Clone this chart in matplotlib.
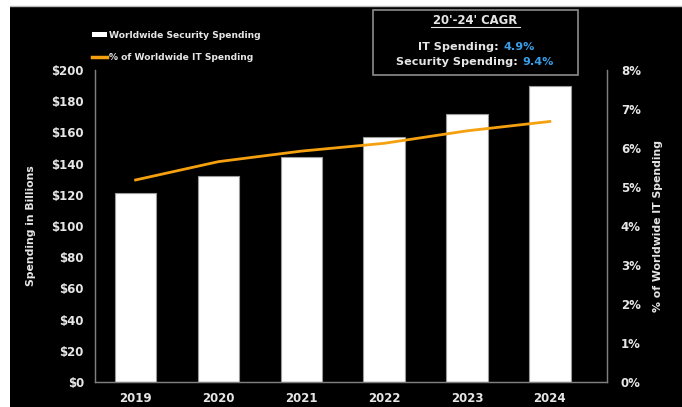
import matplotlib
matplotlib.use("Agg")
import matplotlib.pyplot as plt
from matplotlib.patches import Rectangle, Patch
from matplotlib.lines import Line2D

years = ["2019", "2020", "2021", "2022", "2023", "2024"]
security_spend = [121, 132, 144, 157, 172, 190]       # $ billions
pct_of_it = [5.18, 5.65, 5.92, 6.12, 6.44, 6.68]      # % of worldwide IT spending
yticks_left = list(range(0, 201, 20))
yticks_right = list(range(0, 9))
cagr_it = "4.9%"
cagr_sec = "9.4%"

W, H = 682, 407
fg = "#e6e6e6"
spine_c = "#7f7f7f"
orange = "#f5a00f"
blue = "#3a9ee8"

plt.rcParams["font.family"] = ["DejaVu Sans"]
plt.rcParams["font.weight"] = "bold"

fig = plt.figure(figsize=(W / 100, H / 100), dpi=100, facecolor="white")
# black panel (screenshot has a white strip at the top and left)
fig.patches.append(Rectangle((10 / W, 0), 1 - 10 / W, 1 - 6 / H, transform=fig.transFigure,
                             facecolor="black", edgecolor="none", zorder=-10))
fig.add_artist(Line2D([10 / W, 1], [1 - 5.5 / H, 1 - 5.5 / H], color="#bbbbbb", lw=1))

ax = fig.add_axes([95 / W, 1 - 382 / H, 512 / W, 312 / H])
ax.set_facecolor("black")
x = list(range(len(years)))
ax.bar(x, security_spend, width=0.5, color="white", edgecolor="#9a9a9a", linewidth=0.8, zorder=2)
ax.set_xlim(-0.49, 5.69)
ax.set_ylim(0, 200)
ax.set_yticks(yticks_left)
ax.set_yticklabels([f"${v}" for v in yticks_left])
ax.set_xticks(x)
ax.set_xticklabels(years)
ax.tick_params(axis="y", length=0, pad=8, labelsize=8.5, colors=fg)
ax.tick_params(axis="x", length=0, pad=7, labelsize=8.5, colors=fg)
ax.set_ylabel("Spending in Billions", color=fg, fontsize=7.8, fontweight="bold", labelpad=11)

ax2 = ax.twinx()
ax2.plot(x, pct_of_it, color=orange, lw=2, zorder=3)
ax2.set_ylim(0, 8)
ax2.set_yticks(yticks_right)
ax2.set_yticklabels([f"{v}%" for v in yticks_right])
ax2.tick_params(axis="y", length=0, pad=10, labelsize=8.5, colors=fg)
ax2.set_ylabel("% of Worldwide IT Spending", color=fg, fontsize=7.8, fontweight="bold", labelpad=9)

for a in (ax, ax2):
    for s in a.spines.values():
        s.set_color(spine_c)
        s.set_linewidth(0.9)
    a.spines["top"].set_visible(False)

handles = [Patch(facecolor="white", edgecolor="none"),
           Line2D([0], [0], color=orange, lw=2.5)]
leg = fig.legend(handles, ["Worldwide Security Spending", "% of Worldwide IT Spending"],
                 loc="upper left", bbox_to_anchor=(88 / W, 1 - 27 / H), frameon=False,
                 fontsize=6.6, labelcolor=fg, handlelength=1.7, handleheight=0.5,
                 handletextpad=0.15, labelspacing=1.45, borderaxespad=0)

# CAGR box
fig.add_artist(Rectangle((373 / W, 1 - 75 / H), 205 / W, 65 / H, transform=fig.transFigure,
                         facecolor="black", edgecolor="#8c8c8c", lw=1.2))
fig.text(475 / W, 1 - 20 / H, "20'-24' CAGR", color=fg, fontsize=8.4, ha="center", va="center")
fig.add_artist(Line2D([431 / W, 520 / W], [1 - 26.5 / H, 1 - 26.5 / H], color=fg, lw=0.8))

fig.text(503 / W, 1 - 47 / H, "IT Spending: ", color=fg, fontsize=8.1, ha="right", va="center")
fig.text(503 / W, 1 - 47 / H, cagr_it, color=blue, fontsize=8.1, ha="left", va="center")
fig.text(522 / W, 1 - 62 / H, "Security Spending: ", color=fg, fontsize=8.1, ha="right", va="center")
fig.text(522 / W, 1 - 62 / H, cagr_sec, color=blue, fontsize=8.1, ha="left", va="center")

fig.savefig("out.png", dpi=100, facecolor=fig.get_facecolor())
